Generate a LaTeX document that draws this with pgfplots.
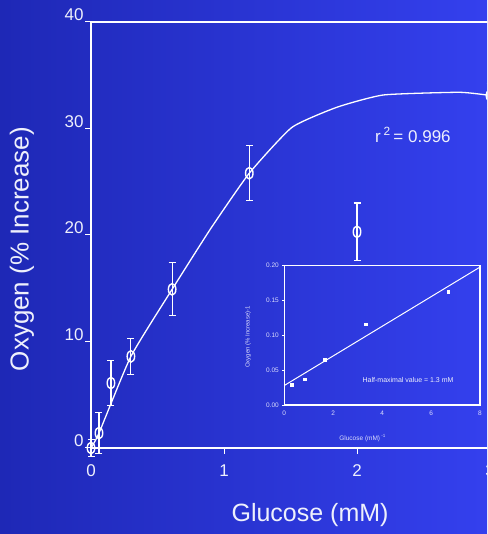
\documentclass[border=0pt]{standalone}
\usepackage{fontspec}
\setmainfont{Liberation Sans}
\usepackage{pgfplots}
\pgfplotsset{compat=1.18}
\definecolor{bgL}{RGB}{30,40,182}
\definecolor{bgR}{RGB}{52,64,238}
\definecolor{circfill}{RGB}{45,56,222}
\definecolor{txt}{RGB}{238,240,252}
\begin{document}
\begin{tikzpicture}
\useasboundingbox (0,0) rectangle (487pt,534pt);
\clip (0,0) rectangle (487pt,534pt);
\shade[left color=bgL, right color=bgR] (0,0) rectangle (487pt,534pt);
\begin{axis}[
  at={(91pt,86pt)}, anchor=south west,
  scale only axis, width=399pt, height=426pt,
  xmin=0, xmax=3, ymin=0, ymax=40,
  clip=false,
  /pgf/number format/assume math mode=true,
  axis line style={white, line width=1.2pt},
  tick style={white, line width=1pt},
  tick align=outside, major tick length=6pt,
  xtick={0,1,2,3}, ytick={0,10,20,30,40},
  xtick pos=bottom, ytick pos=left,
  ticklabel style={text=txt, font=\fontsize{17}{20}\selectfont},
  yticklabel style={yshift=7pt, xshift=2pt},
  xticklabel style={yshift=-7pt},
  xlabel={Glucose (mM)},
  ylabel={Oxygen (\% Increase)},
  xlabel style={at={(axis description cs:0.549,-0.157)}, anchor=center, text=txt, font=\fontsize{25}{30}\selectfont},
  ylabel style={at={(axis description cs:-0.173,0.467)}, anchor=center, text=txt, font=\fontsize{26}{30}\selectfont},
]
\addplot[draw=none, mark=none,
  error bars/.cd, y dir=both, y explicit,
  error bar style={white, line width=1.1pt},
  error mark options={rotate=90, mark size=3.5pt, white, line width=1.1pt}]
  table[x=x, y=y, y error=e] {
x y e
0 0 0.8
0.06 1.4 1.9
0.15 6.1 2.1
0.30 8.6 1.7
0.61 14.9 2.5
1.19 25.8 2.6
2.0 20.3 2.7
3.0 33.1 1.1
};
\addplot[only marks, mark=o, mark size=5pt,
  mark options={xscale=0.75, yscale=1.15, draw=white, fill=circfill, line width=1.4pt}]
  table[x=x, y=y] {
x y
0 0
0.06 1.4
0.15 6.1
0.30 8.6
0.61 14.9
1.19 25.8
2.0 20.3
3.0 33.1
};
\addplot[white, line width=1.3pt, mark=none, smooth, tension=0.3] table {
0 0
0.06 1.4
0.30 8.6
0.61 14.9
0.90 20.6
1.19 25.8
1.51 30.1
1.85 32.0
2.20 33.15
2.77 33.4
3.0 33.1
};
\node[text=txt, font=\fontsize{17}{20}\selectfont] at (axis cs:2.42,29.4) {r\,\textsuperscript{2}\,= 0.996};
\end{axis}
\begin{axis}[
  at={(284.3pt,129pt)}, anchor=south west,
  scale only axis, width=195.7pt, height=139.3pt,
  xmin=0, xmax=8, ymin=0, ymax=0.2,
  axis line style={white, line width=1.6pt},
  tick style={white, line width=0.5pt},
  tick align=outside, major tick length=2pt,
  xtick={0,2,4,6,8}, ytick={0,0.05,0.10,0.15,0.20},
  xtick pos=bottom, ytick pos=left,
  xtick style={draw=none},
  yticklabel style={/pgf/number format/.cd, fixed, fixed zerofill, precision=2},
  /pgf/number format/assume math mode=true,
  ticklabel style={text=txt!92!blue, font=\fontsize{6.5}{7}\selectfont},
  xlabel={Glucose (mM)\,\textsuperscript{-1}},
  ylabel={Oxygen (\% Increase)-1},
  xlabel style={at={(axis description cs:0.40,-0.237)}, anchor=center, text=txt!92!blue, font=\fontsize{6.5}{7}\selectfont},
  ylabel style={at={(axis description cs:-0.185,0.488)}, anchor=center, text=txt!92!blue, font=\fontsize{6}{7}\selectfont},
]
\addplot[only marks, mark=square*, mark size=1.4pt, mark options={white}] table {
0.30 0.0287
0.82 0.0369
1.66 0.0656
3.34 0.116
6.70 0.163
};
\addplot[white, line width=1pt, mark=none] table {
0 0.028
8 0.198
};
\node[text=txt, font=\fontsize{7}{8}\selectfont] at (axis cs:5.06,0.036) {Half-maximal value = 1.3 mM};
\end{axis}
\end{tikzpicture}
\end{document}
